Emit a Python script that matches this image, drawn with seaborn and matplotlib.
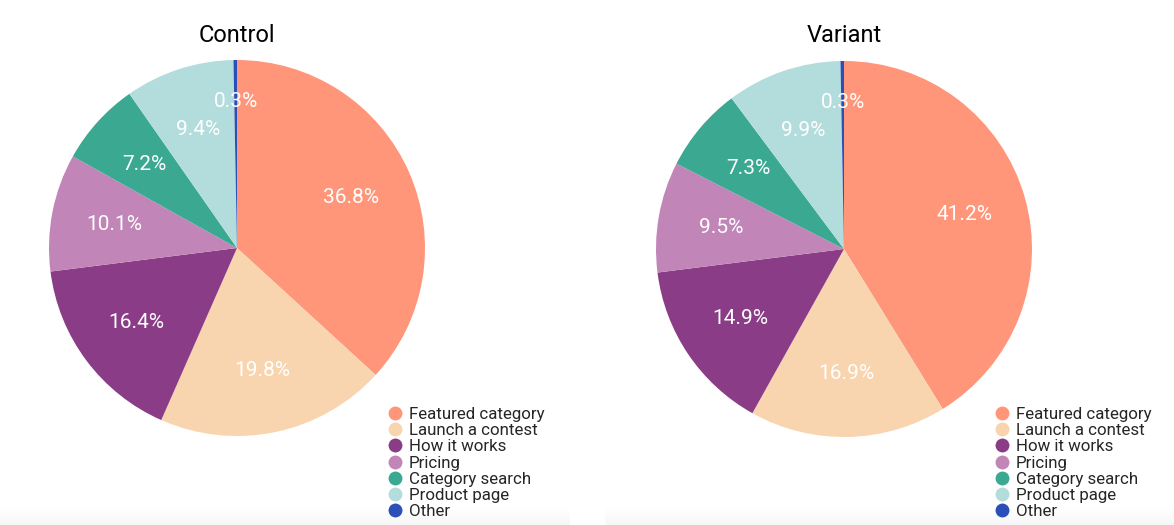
"""Two pie charts comparing click share between Control and Variant."""

import matplotlib
matplotlib.use("Agg")
import numpy as np
import matplotlib.pyplot as plt
import seaborn as sns

categories = ["Featured category", "Launch a contest", "How it works",
              "Pricing", "Category search", "Product page", "Other"]
control_share = [36.8, 19.8, 16.4, 10.1, 7.2, 9.4, 0.3]
variant_share = [41.2, 16.9, 14.9, 9.5, 7.3, 9.9, 0.3]
titles = ["Control", "Variant"]

colors = sns.color_palette(["#FF967A", "#F8D4AF", "#8A3D86", "#C185B8",
                            "#3BA892", "#B3DCDD", "#2B4FB8"])

sns.set_theme(style="white")
plt.rcParams["font.family"] = ["Roboto", "DejaVu Sans"]

W, H = 1174, 525
fig = plt.figure(figsize=(W / 100, H / 100), dpi=100)

R = 188
centers = [(237, 248), (844, 249)]
legend_x = [387, 994]

for (cx, cy), title, values, lx in zip(centers, titles,
                                       [control_share, variant_share], legend_x):
    ax = fig.add_axes([(cx - R) / W, 1 - (cy + R) / H, 2 * R / W, 2 * R / H])
    wedges, _, autotexts = ax.pie(
        values, colors=colors, startangle=90, counterclock=False,
        autopct="%.1f%%", pctdistance=0.665,
        wedgeprops={"linewidth": 0},
        textprops={"color": "white", "fontsize": 15},
    )
    # tiny slices get their label pushed further out, as in the original
    for w, t, v in zip(wedges, autotexts, values):
        if v < 1:
            ang = np.deg2rad((w.theta1 + w.theta2) / 2)
            t.set_position((0.78 * np.cos(ang), 0.78 * np.sin(ang)))
    ax.set_xlim(-1, 1)
    ax.set_ylim(-1, 1)
    ax.set_aspect("equal")
    ax.axis("off")
    fig.text(cx / W, 1 - 35 / H, title, ha="center", va="center",
             fontsize=17, color="black")
    handles = [plt.Line2D([], [], marker="o", linestyle="", markersize=10,
                          markerfacecolor=c, markeredgewidth=0) for c in colors]
    fig.legend(handles, categories, loc="upper left",
               bbox_to_anchor=(lx / W, 1 - 407 / H), frameon=False,
               fontsize=12.2, labelspacing=0.07, handletextpad=0.3,
               handlelength=1.0, borderpad=0, borderaxespad=0)

# faint grey strip at the bottom of each panel
grad = np.linspace(0, 1, 20).reshape(-1, 1)
for x0, x1 in [(0, 570), (605, W)]:
    bax = fig.add_axes([x0 / W, 0, (x1 - x0) / W, 18 / H], zorder=-1)
    bax.imshow(grad, aspect="auto", cmap="Greys", vmin=0, vmax=14,
               extent=[0, 1, 0, 1], origin="upper")
    bax.axis("off")

fig.savefig("out.png", dpi=100)
